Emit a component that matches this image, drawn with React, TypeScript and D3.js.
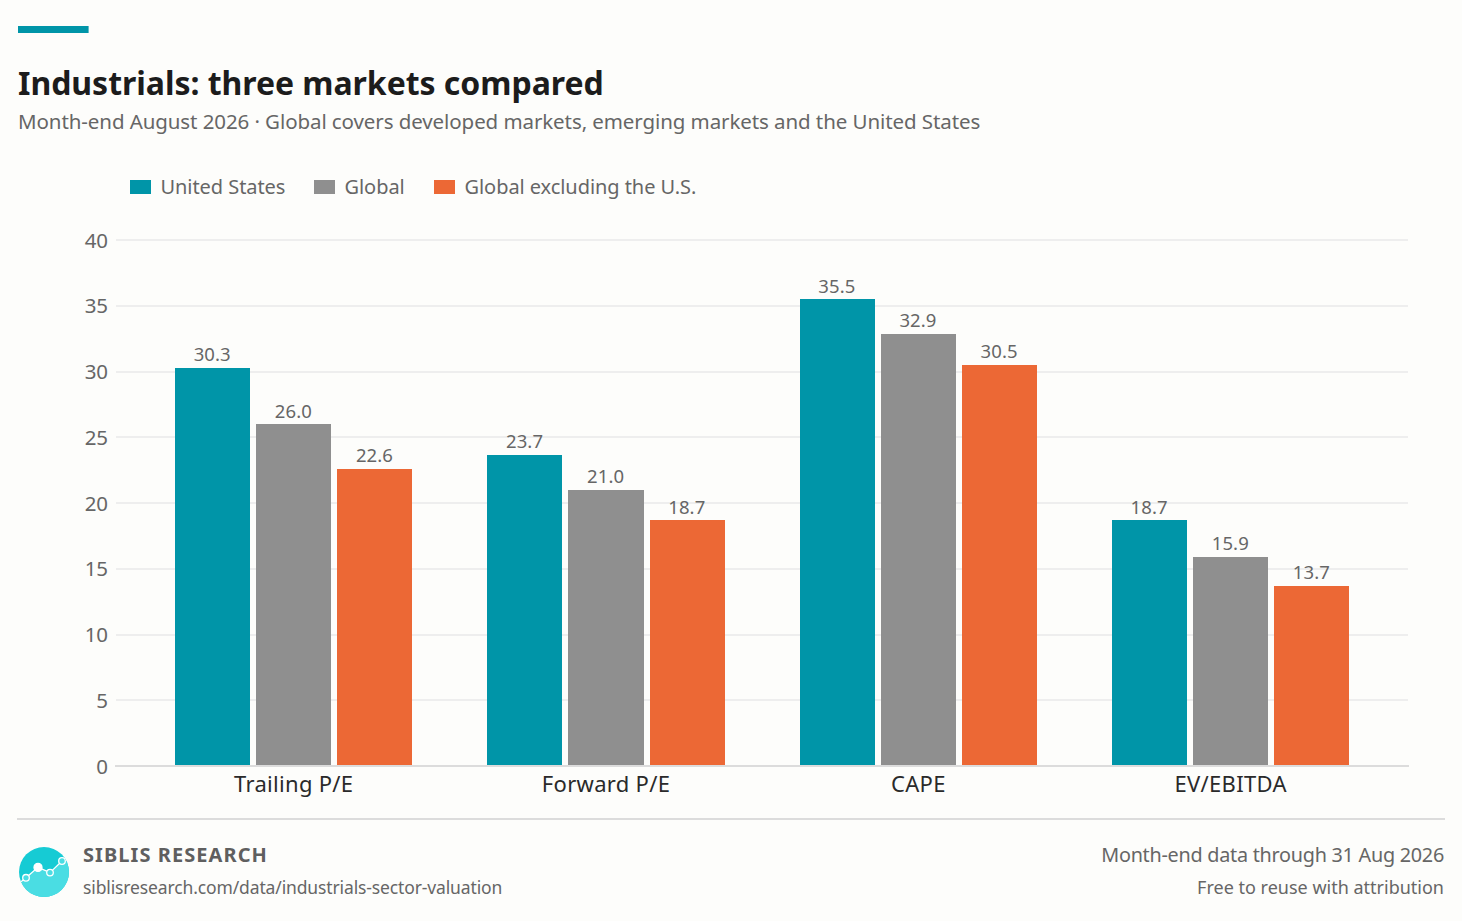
import { useRef, useEffect } from 'react'
import * as d3 from 'd3'

const categories = ['Trailing P/E', 'Forward P/E', 'CAPE', 'EV/EBITDA']
const seriesNames = ['United States', 'Global', 'Global excluding the U.S.']
const unitedStates = [30.3, 23.7, 35.5, 18.7]
const globalAll = [26.0, 21.0, 32.9, 15.9]
const globalExUs = [22.6, 18.7, 30.5, 13.7]
const yTicks = [0, 5, 10, 15, 20, 25, 30, 35, 40]
const colors = ['#0095A8', '#8F8F8F', '#EC6835']
const logoLine = [
  { x: 0, y: 0.58 },
  { x: 1, y: 0.22 },
  { x: 2, y: 0.4 },
  { x: 3, y: 0 },
]

const width = 1462
const height = 921
const font = '"Noto Sans", sans-serif'

const App = () => {
  const svgRef = useRef<SVGSVGElement>(null)

  useEffect(() => {
    if (!svgRef.current) return
    const svg = d3.select(svgRef.current)
    svg.selectAll('*').remove()
    svg.style('font-family', font)

    svg.append('rect').attr('width', width).attr('height', height).attr('fill', '#FDFDFB')
    svg.append('rect').attr('x', 18).attr('y', 26).attr('width', 70.6).attr('height', 7).attr('fill', '#0095A8')

    svg.append('text').attr('x', 18).attr('y', 95).attr('font-size', 32).attr('font-weight', 700)
      .attr('letter-spacing', -0.04).attr('fill', '#1C1C1C').text('Industrials: three markets compared')
    svg.append('text').attr('x', 18).attr('y', 129).attr('font-size', 20.5).attr('letter-spacing', -0.085).attr('fill', '#666')
      .text('Month-end August 2026 · Global covers developed markets, emerging markets and the United States')

    // legend
    const legendX = [130, 314, 434]
    seriesNames.forEach((name, i) => {
      svg.append('rect').attr('x', legendX[i]).attr('y', 180).attr('width', 21).attr('height', 14).attr('fill', colors[i])
      svg.append('text').attr('x', legendX[i] + 30.5).attr('y', 194).attr('font-size', 20).attr('letter-spacing', -0.06)
        .attr('fill', '#666').text(name)
    })

    const y = d3.scaleLinear().domain([0, 40]).range([766, 240])
    const yBar = d3.scaleLinear().domain([0, 40]).range([766.3, 240.3])
    const x0 = d3.scaleBand().domain(categories).range([115.7, 1408.7]).paddingInner(0.24).paddingOuter(0.19)
    const x1 = d3.scaleBand().domain(seriesNames).range([0, x0.bandwidth()]).padding(0.074).paddingOuter(0)

    // grid
    const grid = svg.append('g')
    yTicks.forEach(t => {
      if (t > 0) {
        grid.append('line').attr('x1', 116).attr('x2', 1408).attr('y1', Math.round(y(t))).attr('y2', Math.round(y(t)))
          .attr('stroke', '#EEEEEE').attr('stroke-width', 2)
      }
      grid.append('text').attr('x', 108).attr('y', y(t) + 7.6).attr('text-anchor', 'end')
        .attr('font-size', 20.5).attr('letter-spacing', -0.1).attr('fill', '#666').text(t)
    })

    const seriesValues = [unitedStates, globalAll, globalExUs]
    seriesValues.forEach((vals, s) => {
      const g = svg.append('g')
      vals.forEach((v, i) => {
        const bx = (x0(categories[i]) as number) + (x1(seriesNames[s]) as number)
        g.append('rect').attr('x', bx).attr('y', yBar(v)).attr('width', x1.bandwidth()).attr('height', yBar(0) - yBar(v))
          .attr('fill', colors[s]).attr('shape-rendering', 'crispEdges')
        g.append('text').attr('x', bx + x1.bandwidth() / 2 - 0.4).attr('y', yBar(v) - 6.8).attr('text-anchor', 'middle')
          .attr('font-size', 18.5).attr('letter-spacing', 0.1).attr('fill', '#666').text(v.toFixed(1))
      })
    })

    // baseline sits on top of the bars
    svg.append('line').attr('x1', 115).attr('x2', 1409).attr('y1', 766).attr('y2', 766).attr('stroke', '#DCDCDC').attr('stroke-width', 2)

    categories.forEach(c => {
      svg.append('text').attr('x', (x0(c) as number) + x0.bandwidth() / 2).attr('y', 792).attr('text-anchor', 'middle')
        .attr('font-size', 22).attr('letter-spacing', 0.3).attr('fill', '#2A2A2A').text(c)
    })

    // footer
    svg.append('line').attr('x1', 17).attr('x2', 1445).attr('y1', 819).attr('y2', 819).attr('stroke', '#DCDCDC').attr('stroke-width', 2)

    const defs = svg.append('defs')
    defs.append('clipPath').attr('id', 'logo-clip').append('circle').attr('cx', 44).attr('cy', 872).attr('r', 25)
    const lx = d3.scaleLinear().domain([0, 3]).range([26, 62])
    const ly = d3.scaleLinear().domain([0, 1]).range([861, 890])
    const logo = svg.append('g').attr('clip-path', 'url(#logo-clip)')
    logo.append('rect').attr('x', 19).attr('y', 847).attr('width', 50).attr('height', 50).attr('fill', '#16CBD4')
    const area = d3.area<{ x: number; y: number }>().x(d => lx(d.x)).y0(900).y1(d => ly(d.y))
    logo.append('path').datum([{ x: -1, y: 0.9 }, ...logoLine, { x: 4, y: -0.3 }]).attr('d', area).attr('fill', '#4ADDE3')
    const line = d3.line<{ x: number; y: number }>().x(d => lx(d.x)).y(d => ly(d.y))
    logo.append('path').datum([{ x: -1, y: 0.9 }, ...logoLine, { x: 4, y: -0.3 }]).attr('d', line).attr('fill', 'none').attr('stroke', '#fff').attr('stroke-width', 1.3)
    logoLine.forEach((p, i) => {
      logo.append('circle').attr('cx', lx(p.x)).attr('cy', ly(p.y)).attr('r', i === 1 ? 4 : 3.3)
        .attr('fill', i === 1 ? '#fff' : '#4ADDE3').attr('stroke', '#fff').attr('stroke-width', 1.3)
    })

    svg.append('text').attr('x', 83).attr('y', 862).attr('font-size', 20).attr('font-weight', 700).attr('letter-spacing', 1.07)
      .attr('fill', '#5F5F5F').text('SIBLIS RESEARCH')
    svg.append('text').attr('x', 83).attr('y', 894).attr('font-size', 17.5).attr('letter-spacing', -0.13)
      .attr('fill', '#666').text('siblisresearch.com/data/industrials-sector-valuation')
    svg.append('text').attr('x', 1444).attr('y', 862).attr('text-anchor', 'end').attr('font-size', 19.8).attr('letter-spacing', -0.25)
      .attr('fill', '#666').text('Month-end data through 31 Aug 2026')
    svg.append('text').attr('x', 1444).attr('y', 894).attr('text-anchor', 'end').attr('font-size', 18).attr('fill', '#666').text('Free to reuse with attribution')
  }, [])

  return (
    <div style={{ position: 'absolute', left: 0, top: 0 }}>
      <svg ref={svgRef} width={width} height={height} style={{ display: 'block' }} />
    </div>
  )
}

export default App
